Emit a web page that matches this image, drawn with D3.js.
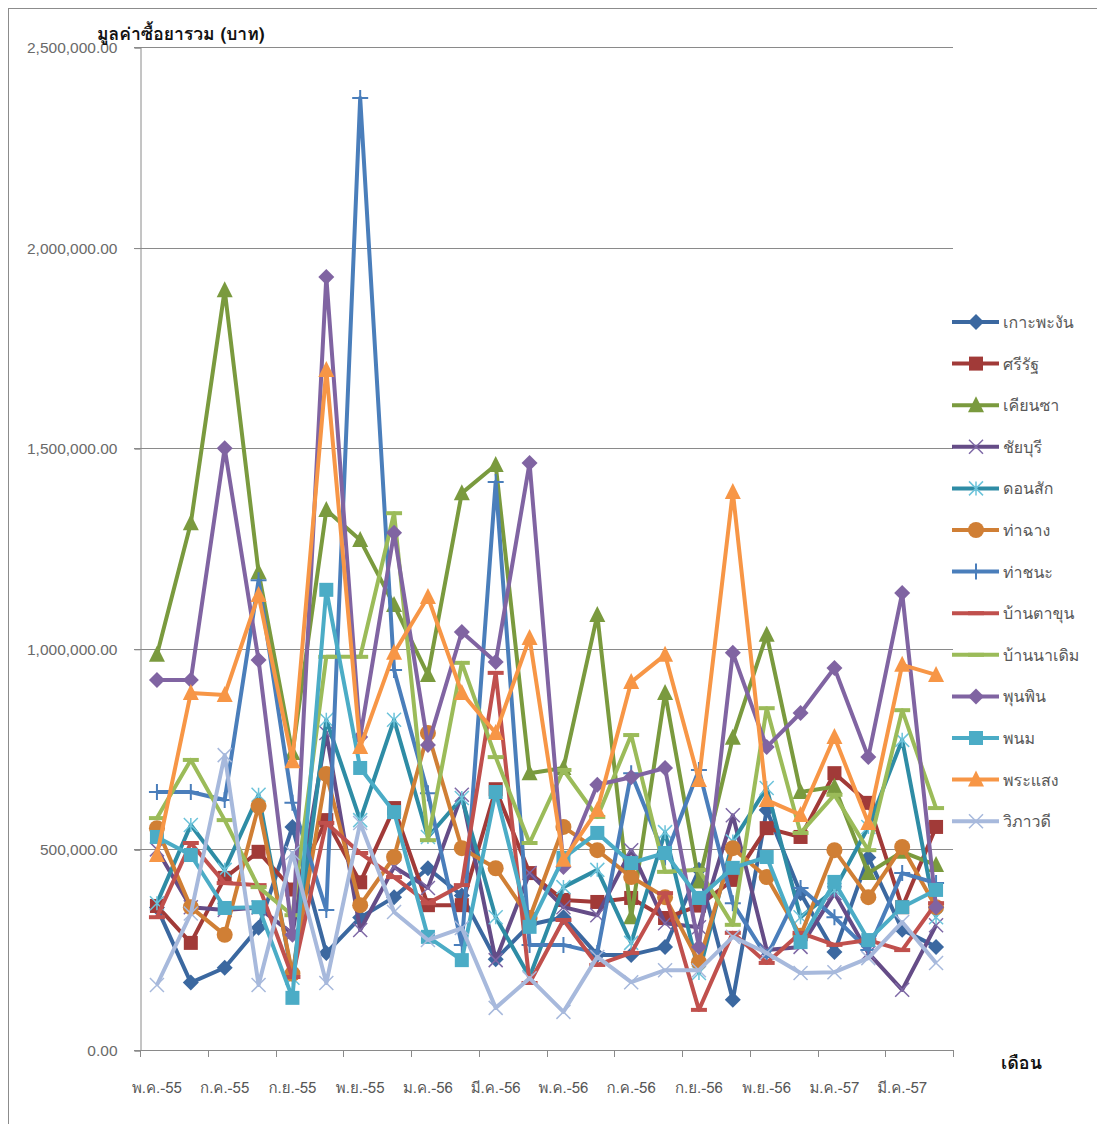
<!DOCTYPE html>
<html>
<head>
<meta charset="utf-8">
<script src="https://cdn.jsdelivr.net/npm/d3@7/dist/d3.min.js"></script>
<style>
  html, body { margin: 0; padding: 0; background: #fff; }
  svg { display: block; }
  text { font-family: "Tahoma", "Loma", "Garuda", "Norasi", "Noto Sans Thai", "Noto Sans", "DejaVu Sans", sans-serif; }
</style>
</head>
<body>
<svg id="chart" width="1097" height="1124"></svg>
<script>
// Months (Thai Buddhist-era short form)
const months = ["พ.ค.-55","มิ.ย.-55","ก.ค.-55","ส.ค.-55","ก.ย.-55","ต.ค.-55","พ.ย.-55","ธ.ค.-55",
  "ม.ค.-56","ก.พ.-56","มี.ค.-56","เม.ย.-56","พ.ค.-56","มิ.ย.-56","ก.ค.-56","ส.ค.-56",
  "ก.ย.-56","ต.ค.-56","พ.ย.-56","ธ.ค.-56","ม.ค.-57","ก.พ.-57","มี.ค.-57","เม.ย.-57"];

const seriesNames = ["เกาะพะงัน","ศรีรัฐ","เคียนซา","ชัยบุรี","ดอนสัก","ท่าฉาง","ท่าชนะ",
  "บ้านตาขุน","บ้านนาเดิม","พุนพิน","พนม","พระแสง","วิภาวดี"];

// Monthly drug purchase value (baht) per district
const kohPhangan = [355000,168000,205000,305000,556000,242000,330000,381000,453000,385000,226000,312000,331000,237000,237000,257000,449000,125000,598000,391000,244000,480000,300000,257000];
const siRat      = [359000,267000,429000,494000,400000,573000,418000,603000,361000,361000,650000,441000,374000,369000,379000,329000,360000,424000,553000,531000,690000,616000,356000,556000];
const khianSa    = [985000,1313000,1894000,1191000,740000,1346000,1271000,1109000,935000,1388000,1458000,690000,703000,1084000,331000,890000,420000,778000,1035000,643000,656000,441000,494000,461000];
const chaiBuri   = [500000,356000,349000,355000,290000,790000,299000,456000,404000,636000,224000,441000,356000,336000,498000,316000,306000,585000,249000,257000,391000,242000,150000,311000];
const donSak     = [366000,561000,449000,636000,180000,823000,573000,823000,531000,628000,331000,182000,406000,449000,267000,543000,192000,520000,653000,331000,399000,556000,773000,331000];
const thaChang   = [553000,356000,287000,608000,190000,688000,361000,481000,790000,503000,453000,329000,556000,498000,431000,381000,219000,503000,431000,285000,498000,381000,506000,356000];
const thaChana   = [643000,643000,623000,1171000,616000,349000,2373000,947000,640000,262000,1416000,262000,262000,242000,690000,480000,698000,366000,232000,404000,331000,249000,441000,416000];
const banTaKhun  = [331000,516000,416000,411000,182000,566000,491000,431000,366000,411000,940000,167000,324000,212000,242000,391000,100000,292000,217000,292000,262000,274000,249000,366000];
const banNaDoem  = [578000,723000,573000,406000,336000,980000,980000,1338000,523000,965000,730000,516000,698000,581000,785000,444000,449000,312000,852000,541000,636000,498000,847000,603000];
const phunPhin   = [922000,922000,1500000,972000,287000,1927000,780000,1289000,760000,1042000,967000,1463000,456000,661000,680000,703000,257000,990000,755000,840000,952000,730000,1139000,356000];
const phanom     = [531000,486000,354000,356000,130000,1147000,703000,593000,282000,224000,643000,307000,479000,541000,466000,491000,379000,454000,481000,269000,419000,274000,356000,399000];
const phraSaeng  = [486000,890000,885000,1134000,720000,1695000,755000,990000,1129000,890000,790000,1027000,474000,598000,917000,985000,673000,1391000,623000,586000,780000,566000,960000,935000];
const wiphawadi  = [162000,340000,735000,162000,491000,167000,566000,344000,274000,304000,105000,179000,95000,232000,169000,199000,199000,282000,242000,192000,194000,229000,319000,217000];

const seriesValues = [kohPhangan, siRat, khianSa, chaiBuri, donSak, thaChang, thaChana,
  banTaKhun, banNaDoem, phunPhin, phanom, phraSaeng, wiphawadi];

const seriesColors = ["#3B68A0","#A13A38","#7A9A3E","#654C87","#2E8CA5","#D07F35","#4A7EBB",
  "#C0504D","#9BBB59","#8064A2","#4BACC6","#F79646","#A7B9DC"];
const markerColors = ["#3B68A0","#A13A38","#7A9A3E","#7E68A6","#6CC3DA","#D07F35","#4A7EBB",
  "#C0504D","#9BBB59","#8064A2","#4BACC6","#F79646","#A7B9DC"];
const markerKinds = ["diamond","square","triangle","cross","star","circle","plus",
  "dash","dash","diamond","square","triangle","cross"];

const yTicks = [0, 500000, 1000000, 1500000, 2000000, 2500000];
const xLabelMonths = months.filter((m, i) => i % 2 === 0);

const svg = d3.select("#chart");
const plot = { left: 140, right: 953, top: 47, bottom: 1050 };

const x = d3.scalePoint().domain(months).range([plot.left, plot.right]).padding(0.5);
const y = d3.scaleLinear().domain([0, 2500000]).range([plot.bottom, plot.top]);
const step = x.step();

// outer chart frame
svg.append("rect").attr("x", 8.5).attr("y", 8.5).attr("width", 1200).attr("height", 1200)
  .attr("fill", "none").attr("stroke", "#8c8c8c").attr("stroke-width", 1);

// horizontal gridlines
svg.append("g").selectAll("line").data(yTicks.filter(d => d > 0)).join("line")
  .attr("x1", plot.left - 6).attr("x2", plot.right)
  .attr("y1", d => Math.round(y(d)) + 0.5).attr("y2", d => Math.round(y(d)) + 0.5)
  .attr("stroke", "#8a8a8a").attr("stroke-width", 1);

// y axis
const yAxis = d3.axisLeft(y).tickValues(yTicks).tickSize(6).tickPadding(17)
  .tickFormat(d => d3.format(",.2f")(d));
const gy = svg.append("g").attr("transform", `translate(${plot.left + 0.5},0.5)`).call(yAxis);
gy.select(".domain").attr("stroke", "#8a8a8a");
gy.selectAll(".tick line").attr("stroke", "#8a8a8a");
gy.selectAll(".tick text").attr("fill", "#6a6a6a").style("font-size", "15.5px")
  .style("font-family", "'Liberation Sans', Arial, sans-serif");

// x axis: ticks every two months on category boundaries
const gx = svg.append("g");
gx.append("line").attr("x1", plot.left - 6).attr("x2", plot.right)
  .attr("y1", plot.bottom + 0.5).attr("y2", plot.bottom + 0.5).attr("stroke", "#8a8a8a");
const boundaries = d3.range(0, months.length + 1, 2).map(i => plot.left + i * step);
gx.selectAll("line.tk").data(boundaries).join("line").attr("class", "tk")
  .attr("x1", d => Math.round(d) + 0.5).attr("x2", d => Math.round(d) + 0.5)
  .attr("y1", plot.bottom).attr("y2", plot.bottom + 7).attr("stroke", "#8a8a8a");
gx.selectAll("text").data(xLabelMonths).join("text")
  .attr("x", d => x(d)).attr("y", plot.bottom + 43)
  .attr("text-anchor", "middle").attr("fill", "#595959").style("font-size", "15px")
  .text(d => d);

// axis titles
svg.append("text").attr("x", 97).attr("y", 40).attr("font-weight", "bold")
  .style("font-size", "17.5px").attr("fill", "#111").text("มูลค่าซื้อยารวม (บาท)");
svg.append("text").attr("x", 1001).attr("y", 1069).attr("font-weight", "bold")
  .style("font-size", "18px").attr("fill", "#111").text("เดือน");

// marker drawing
function drawMarker(g, kind, color, cx, cy) {
  const s = 7;
  if (kind === "diamond") {
    g.append("path").attr("d", `M${cx},${cy - s - 1}L${cx + s + 1},${cy}L${cx},${cy + s + 1}L${cx - s - 1},${cy}Z`).attr("fill", color);
  } else if (kind === "square") {
    g.append("rect").attr("x", cx - s).attr("y", cy - s).attr("width", 2 * s).attr("height", 2 * s).attr("fill", color);
  } else if (kind === "triangle") {
    g.append("path").attr("d", `M${cx},${cy - s - 2}L${cx + s + 1},${cy + s}L${cx - s - 1},${cy + s}Z`).attr("fill", color);
  } else if (kind === "circle") {
    g.append("circle").attr("cx", cx).attr("cy", cy).attr("r", s + 1).attr("fill", color);
  } else if (kind === "cross") {
    g.append("path").attr("d", `M${cx - s},${cy - s}L${cx + s},${cy + s}M${cx - s},${cy + s}L${cx + s},${cy - s}`)
      .attr("stroke", color).attr("stroke-width", 1.5).attr("fill", "none");
  } else if (kind === "star") {
    g.append("path").attr("d", `M${cx - s},${cy - s}L${cx + s},${cy + s}M${cx - s},${cy + s}L${cx + s},${cy - s}M${cx},${cy - s}L${cx},${cy + s}`)
      .attr("stroke", color).attr("stroke-width", 1.5).attr("fill", "none");
  } else if (kind === "plus") {
    g.append("path").attr("d", `M${cx - s - 1},${cy}L${cx + s + 1},${cy}M${cx},${cy - s - 1}L${cx},${cy + s + 1}`)
      .attr("stroke", color).attr("stroke-width", 2).attr("fill", "none");
  } else if (kind === "dash") {
    g.append("path").attr("d", `M${cx - s - 1},${cy}L${cx + s + 1},${cy}`)
      .attr("stroke", color).attr("stroke-width", 4).attr("fill", "none");
  }
}

// series lines and markers
const line = d3.line().x((d, i) => x(months[i])).y(d => y(d));
const gs = svg.append("g");
seriesValues.forEach((vals, k) => {
  const g = gs.append("g");
  g.append("path").datum(vals).attr("d", line).attr("fill", "none")
    .attr("stroke", seriesColors[k]).attr("stroke-width", 4).attr("stroke-linejoin", "round");
  vals.forEach((v, i) => drawMarker(g, markerKinds[k], markerColors[k], x(months[i]), y(v)));
});

// legend
const lg = svg.append("g");
seriesNames.forEach((name, k) => {
  const cy = 322 + k * 41.6;
  const g = lg.append("g");
  g.append("line").attr("x1", 952).attr("x2", 999).attr("y1", cy).attr("y2", cy)
    .attr("stroke", seriesColors[k]).attr("stroke-width", 4);
  drawMarker(g, markerKinds[k], markerColors[k], 976, cy);
  g.append("text").attr("x", 1003).attr("y", cy + 6).attr("fill", "#595959")
    .style("font-size", "16px").text(name);
});
</script>
</body>
</html>
